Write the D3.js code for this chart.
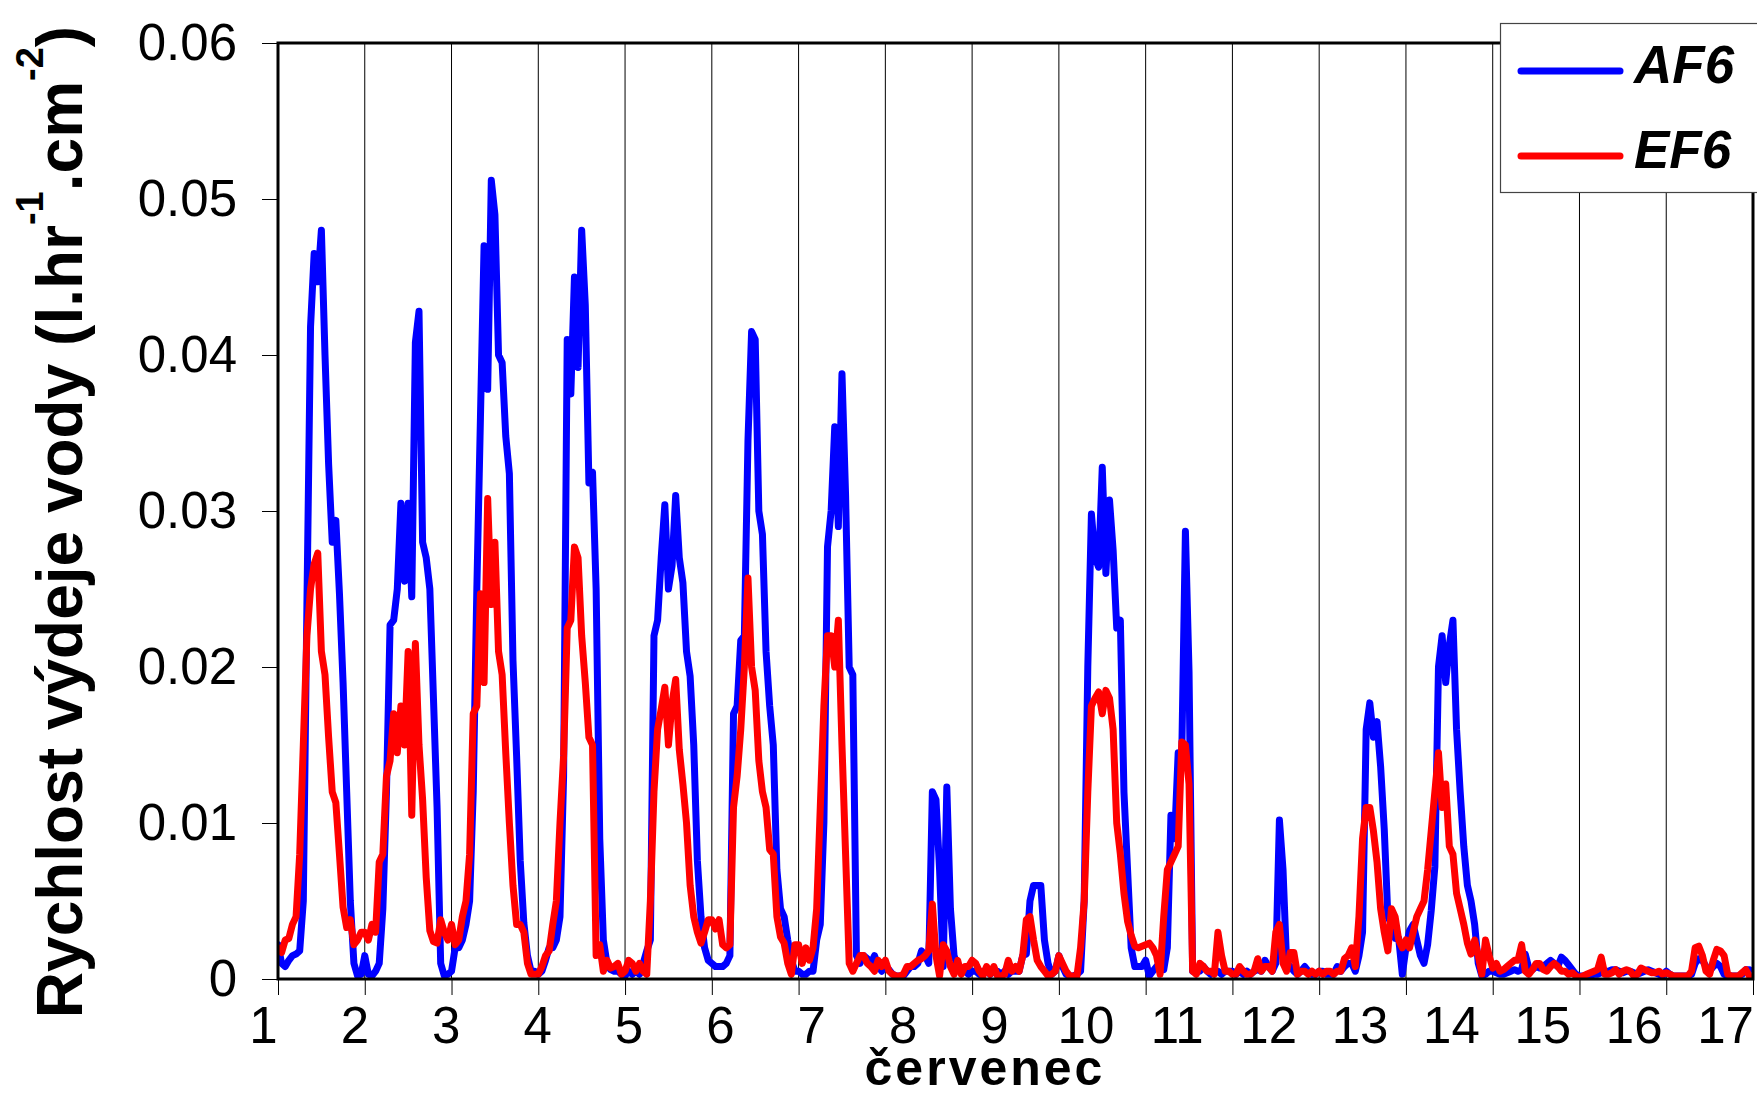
<!DOCTYPE html>
<html>
<head>
<meta charset="utf-8">
<script src="https://cdn.jsdelivr.net/npm/d3@7"></script>
<style>
  body { margin: 0; background: #fff; }
  svg { display: block; font-family: "Liberation Sans", Arial, sans-serif; }
</style>
</head>
<body>
<svg id="chart"></svg>
<script>
// hourly water loss rate (l.hr-1.cm-2), one row of 24 hours per day in July
const af6 = [
  [0.0022,0.0010,0.0008,0.0012,0.0015,0.0016,0.0018,0.0050,0.0240,0.0418,0.0465,0.0447,0.0480,0.0400,0.0330,0.0280,0.0294,0.0247,0.0190,0.0120,0.0050,0.0010,0.0002,0.0003],
  [0.0015,0.0003,0.0002,0.0005,0.0010,0.0045,0.0120,0.0227,0.0230,0.0250,0.0305,0.0255,0.0305,0.0245,0.0408,0.0428,0.0280,0.0270,0.0250,0.0180,0.0110,0.0010,0.0002,0.0003],
  [0.0005,0.0020,0.0020,0.0025,0.0035,0.0050,0.0120,0.0250,0.0360,0.0470,0.0378,0.0512,0.0490,0.0400,0.0395,0.0348,0.0324,0.0204,0.0143,0.0076,0.0036,0.0015,0.0005,0.0005],
  [0.0003,0.0005,0.0012,0.0020,0.0020,0.0025,0.0040,0.0130,0.0410,0.0375,0.0450,0.0392,0.0480,0.0432,0.0318,0.0325,0.0250,0.0090,0.0025,0.0010,0.0006,0.0005,0.0005,0.0003],
  [0.0002,0.0005,0.0003,0.0005,0.0003,0.0010,0.0018,0.0025,0.0220,0.0230,0.0270,0.0304,0.0250,0.0265,0.0310,0.0270,0.0254,0.0210,0.0194,0.0150,0.0076,0.0040,0.0020,0.0012],
  [0.0010,0.0008,0.0008,0.0008,0.0010,0.0015,0.0170,0.0175,0.0217,0.0220,0.0345,0.0415,0.0410,0.0300,0.0285,0.0210,0.0175,0.0150,0.0070,0.0045,0.0040,0.0025,0.0012,0.0005],
  [0.0005,0.0003,0.0003,0.0005,0.0005,0.0025,0.0035,0.0100,0.0277,0.0300,0.0354,0.0290,0.0388,0.0310,0.0200,0.0195,0.0015,0.0010,0.0015,0.0013,0.0010,0.0015,0.0008,0.0005],
  [0.0008,0.0006,0.0003,0.0002,0.0002,0.0002,0.0005,0.0008,0.0008,0.0010,0.0018,0.0015,0.0010,0.0120,0.0115,0.0070,0.0008,0.0123,0.0045,0.0015,0.0008,0.0005,0.0005,0.0003],
  [0.0005,0.0005,0.0003,0.0005,0.0005,0.0003,0.0005,0.0005,0.0003,0.0005,0.0003,0.0005,0.0005,0.0005,0.0015,0.0016,0.0050,0.0060,0.0060,0.0060,0.0025,0.0010,0.0003,0.0005],
  [0.0015,0.0008,0.0003,0.0002,0.0002,0.0003,0.0005,0.0050,0.0200,0.0298,0.0270,0.0264,0.0328,0.0260,0.0307,0.0275,0.0225,0.0230,0.0120,0.0070,0.0020,0.0008,0.0008,0.0008],
  [0.0012,0.0002,0.0005,0.0008,0.0008,0.0006,0.0020,0.0105,0.0090,0.0145,0.0145,0.0287,0.0197,0.0005,0.0005,0.0005,0.0008,0.0005,0.0003,0.0005,0.0005,0.0003,0.0005,0.0005],
  [0.0005,0.0003,0.0005,0.0003,0.0005,0.0003,0.0005,0.0006,0.0005,0.0012,0.0008,0.0005,0.0010,0.0102,0.0070,0.0010,0.0008,0.0005,0.0003,0.0005,0.0008,0.0005,0.0003,0.0003],
  [0.0005,0.0005,0.0003,0.0003,0.0003,0.0008,0.0005,0.0008,0.0010,0.0010,0.0005,0.0015,0.0030,0.0160,0.0177,0.0155,0.0165,0.0136,0.0096,0.0040,0.0035,0.0026,0.0026,0.0003],
  [0.0020,0.0031,0.0035,0.0025,0.0015,0.0010,0.0022,0.0044,0.0072,0.0200,0.0220,0.0190,0.0214,0.0230,0.0160,0.0120,0.0085,0.0060,0.0050,0.0035,0.0010,0.0002,0.0003,0.0005],
  [0.0005,0.0004,0.0003,0.0003,0.0004,0.0005,0.0006,0.0005,0.0006,0.0016,0.0007,0.0006,0.0008,0.0007,0.0008,0.0010,0.0012,0.0010,0.0008,0.0014,0.0012,0.0009,0.0006,0.0003],
  [0.0002,0.0002,0.0002,0.0002,0.0003,0.0003,0.0004,0.0005,0.0005,0.0006,0.0006,0.0005,0.0004,0.0005,0.0005,0.0004,0.0003,0.0004,0.0005,0.0006,0.0005,0.0004,0.0003,0.0002],
  [0.0005,0.0003,0.0002,0.0002,0.0002,0.0002,0.0002,0.0003,0.0010,0.0013,0.0012,0.0008,0.0005,0.0008,0.0010,0.0008,0.0003,0.0002,0.0002,0.0002,0.0002,0.0003,0.0006,0.0006]
];

const ef6 = [
  [0.0020,0.0017,0.0025,0.0026,0.0035,0.0040,0.0080,0.0150,0.0220,0.0250,0.0266,0.0273,0.0210,0.0195,0.0155,0.0120,0.0113,0.0080,0.0046,0.0033,0.0038,0.0022,0.0025,0.0030],
  [0.0030,0.0025,0.0035,0.0030,0.0075,0.0080,0.0130,0.0140,0.0170,0.0145,0.0175,0.0150,0.0210,0.0105,0.0215,0.0150,0.0115,0.0065,0.0031,0.0024,0.0023,0.0038,0.0030,0.0025],
  [0.0035,0.0022,0.0025,0.0040,0.0050,0.0080,0.0170,0.0175,0.0247,0.0190,0.0308,0.0240,0.0280,0.0210,0.0195,0.0145,0.0100,0.0060,0.0035,0.0035,0.0030,0.0010,0.0003,0.0003],
  [0.0003,0.0008,0.0015,0.0018,0.0035,0.0050,0.0100,0.0143,0.0225,0.0230,0.0277,0.0270,0.0220,0.0190,0.0155,0.0150,0.0015,0.0022,0.0005,0.0012,0.0007,0.0008,0.0010,0.0003],
  [0.0005,0.0012,0.0010,0.0005,0.0010,0.0005,0.0003,0.0050,0.0120,0.0160,0.0173,0.0187,0.0150,0.0177,0.0192,0.0147,0.0125,0.0100,0.0060,0.0040,0.0030,0.0023,0.0030,0.0038],
  [0.0038,0.0032,0.0038,0.0022,0.0020,0.0022,0.0110,0.0130,0.0160,0.0200,0.0257,0.0200,0.0185,0.0140,0.0120,0.0110,0.0083,0.0080,0.0040,0.0027,0.0023,0.0010,0.0003,0.0022],
  [0.0022,0.0010,0.0020,0.0012,0.0020,0.0045,0.0110,0.0175,0.0220,0.0220,0.0200,0.0230,0.0150,0.0080,0.0010,0.0005,0.0010,0.0015,0.0015,0.0010,0.0008,0.0005,0.0012,0.0008],
  [0.0012,0.0005,0.0003,0.0002,0.0002,0.0003,0.0008,0.0008,0.0010,0.0012,0.0013,0.0015,0.0018,0.0048,0.0015,0.0002,0.0022,0.0018,0.0008,0.0003,0.0012,0.0003,0.0008,0.0008],
  [0.0012,0.0010,0.0005,0.0002,0.0008,0.0003,0.0008,0.0002,0.0002,0.0003,0.0012,0.0005,0.0008,0.0005,0.0015,0.0038,0.0040,0.0025,0.0012,0.0008,0.0005,0.0002,0.0003,0.0005],
  [0.0015,0.0010,0.0005,0.0002,0.0002,0.0002,0.0020,0.0050,0.0120,0.0175,0.0180,0.0184,0.0170,0.0185,0.0180,0.0160,0.0100,0.0080,0.0055,0.0037,0.0028,0.0021,0.0020,0.0021],
  [0.0022,0.0023,0.0020,0.0015,0.0003,0.0040,0.0070,0.0075,0.0080,0.0085,0.0152,0.0150,0.0125,0.0005,0.0003,0.0010,0.0008,0.0005,0.0005,0.0003,0.0030,0.0015,0.0005,0.0005],
  [0.0003,0.0003,0.0008,0.0005,0.0003,0.0003,0.0005,0.0013,0.0005,0.0008,0.0008,0.0005,0.0030,0.0035,0.0010,0.0005,0.0017,0.0017,0.0003,0.0005,0.0005,0.0003,0.0005,0.0003],
  [0.0005,0.0003,0.0005,0.0005,0.0003,0.0005,0.0005,0.0013,0.0015,0.0020,0.0008,0.0040,0.0090,0.0110,0.0110,0.0095,0.0075,0.0045,0.0030,0.0018,0.0045,0.0040,0.0025,0.0020],
  [0.0025,0.0020,0.0030,0.0040,0.0045,0.0050,0.0070,0.0095,0.0120,0.0145,0.0110,0.0125,0.0085,0.0080,0.0055,0.0045,0.0035,0.0023,0.0016,0.0025,0.0015,0.0003,0.0025,0.0015],
  [0.0007,0.0010,0.0005,0.0006,0.0008,0.0010,0.0012,0.0012,0.0022,0.0005,0.0003,0.0006,0.0010,0.0010,0.0006,0.0005,0.0008,0.0010,0.0008,0.0005,0.0005,0.0003,0.0004,0.0002],
  [0.0001,0.0002,0.0003,0.0004,0.0005,0.0006,0.0014,0.0003,0.0003,0.0004,0.0006,0.0003,0.0005,0.0006,0.0005,0.0002,0.0003,0.0007,0.0006,0.0005,0.0004,0.0004,0.0005,0.0003],
  [0.0004,0.0003,0.0002,0.0002,0.0002,0.0002,0.0002,0.0005,0.0020,0.0021,0.0015,0.0005,0.0003,0.0012,0.0019,0.0018,0.0015,0.0003,0.0002,0.0002,0.0002,0.0004,0.0006,0.0002]
];

const dayLabels = [1, 2, 3, 4, 5, 6, 7, 8, 9, 10, 11, 12, 13, 14, 15, 16, 17];
const dayTicks = [1, 2, 3, 4, 5, 6, 7, 8, 9, 10, 11, 12, 13, 14, 15, 16, 17, 18];
const yTicks = [0, 0.01, 0.02, 0.03, 0.04, 0.05, 0.06];
const seriesNames = ["AF6", "EF6"];
const seriesColors = ["#0000ff", "#ff0000"];

const width = 1757, height = 1095;
const margin = { top: 43, right: 4, bottom: 116, left: 278 };
const font = "'Liberation Sans', Arial, sans-serif";

const svg = d3.select("#chart").attr("width", width).attr("height", height);

const x = d3.scaleLinear().domain([1, 18]).range([margin.left, width - margin.right]);
const y = d3.scaleLinear().domain([0, 0.06]).range([height - margin.bottom, margin.top]);
// Excel spreads the day labels a bit wider than the ticks
const labelX = d3.scaleLinear().domain([1, 17]).range([x(1) - 15, x(18) - 28]);

// turn the day rows into (day + hour/24, value) points
const toPoints = (rows) => rows.flatMap((row, d) => row.map((v, h) => ({ t: d + 1 + h / 24, v: v })));
const series = [toPoints(af6), toPoints(ef6)];

svg.append("defs").append("clipPath").attr("id", "plot-clip")
  .append("rect")
  .attr("x", x(1)).attr("y", y(0.06))
  .attr("width", x(18) - x(1)).attr("height", y(0) - y(0.06));

// vertical day gridlines
svg.append("g")
  .selectAll("line")
  .data(dayTicks.slice(1, -1))
  .join("line")
  .attr("x1", d => x(d)).attr("x2", d => x(d))
  .attr("y1", y(0.06)).attr("y2", y(0))
  .attr("stroke", "#000").attr("stroke-width", 1);

const line = d3.line().x(d => x(d.t)).y(d => y(d.v));

svg.append("g").attr("clip-path", "url(#plot-clip)")
  .selectAll("path")
  .data(series)
  .join("path")
  .attr("d", line)
  .attr("fill", "none")
  .attr("stroke", (d, i) => seriesColors[i])
  .attr("stroke-width", 7)
  .attr("stroke-linejoin", "round")
  .attr("stroke-linecap", "round");

// plot frame
svg.append("rect")
  .attr("x", x(1)).attr("y", y(0.06))
  .attr("width", x(18) - x(1)).attr("height", y(0) - y(0.06))
  .attr("fill", "none").attr("stroke", "#000").attr("stroke-width", 3);

// y axis
const yAxis = svg.append("g")
  .attr("transform", `translate(${x(1)},0)`)
  .call(d3.axisLeft(y).tickValues(yTicks).tickSize(16).tickPadding(25)
    .tickFormat(d => d === 0 ? "0" : d3.format(".2f")(d)));
yAxis.select(".domain").remove();
yAxis.selectAll("line").attr("stroke", "#000");
yAxis.selectAll("text").attr("font-family", font).attr("font-size", 51).attr("fill", "#000");

// x axis ticks
const xAxis = svg.append("g")
  .attr("transform", `translate(0,${y(0)})`)
  .call(d3.axisBottom(x).tickValues(dayTicks).tickSize(16).tickFormat(""));
xAxis.select(".domain").remove();
xAxis.selectAll("line").attr("stroke", "#000");

// x axis day labels
const xLabels = svg.append("g")
  .attr("transform", `translate(0,${y(0)})`)
  .call(d3.axisBottom(labelX).tickValues(dayLabels).tickSize(0).tickPadding(28).tickFormat(d3.format("d")));
xLabels.select(".domain").remove();
xLabels.selectAll("text").attr("font-family", font).attr("font-size", 51).attr("fill", "#000");

// axis titles
svg.append("text")
  .attr("x", 985).attr("y", 1085)
  .attr("text-anchor", "middle")
  .attr("font-family", font).attr("font-size", 50).attr("font-weight", "bold")
  .attr("letter-spacing", 3)
  .text("červenec");

const yTitle = svg.append("text")
  .attr("transform", "translate(82,522) rotate(-90)")
  .attr("text-anchor", "middle")
  .attr("font-family", font).attr("font-size", 64).attr("font-weight", "bold");
yTitle.append("tspan").text("Rychlost výdeje vody (l.hr");
yTitle.append("tspan").attr("dy", -39).attr("font-size", 38).text("-1");
yTitle.append("tspan").attr("dy", 39).text(".cm");
yTitle.append("tspan").attr("dy", -39).attr("font-size", 38).text("-2");
yTitle.append("tspan").attr("dy", 39).text(")");

// legend
const legend = svg.append("g");
legend.append("rect")
  .attr("x", 1500.5).attr("y", 23.5).attr("width", 300).attr("height", 169)
  .attr("fill", "#fff").attr("stroke", "#444").attr("stroke-width", 1.2);

const items = legend.selectAll("g.item")
  .data(seriesNames)
  .join("g").attr("class", "item")
  .attr("transform", (d, i) => `translate(0,${71 + i * 85})`);
items.append("line")
  .attr("x1", 1521).attr("x2", 1620)
  .attr("stroke", (d, i) => seriesColors[i])
  .attr("stroke-width", 7).attr("stroke-linecap", "round");
items.append("text")
  .attr("x", 1634).attr("y", 12)
  .attr("font-family", font).attr("font-size", 53)
  .attr("font-weight", "bold").attr("font-style", "italic")
  .text(d => d);
</script>
</body>
</html>
